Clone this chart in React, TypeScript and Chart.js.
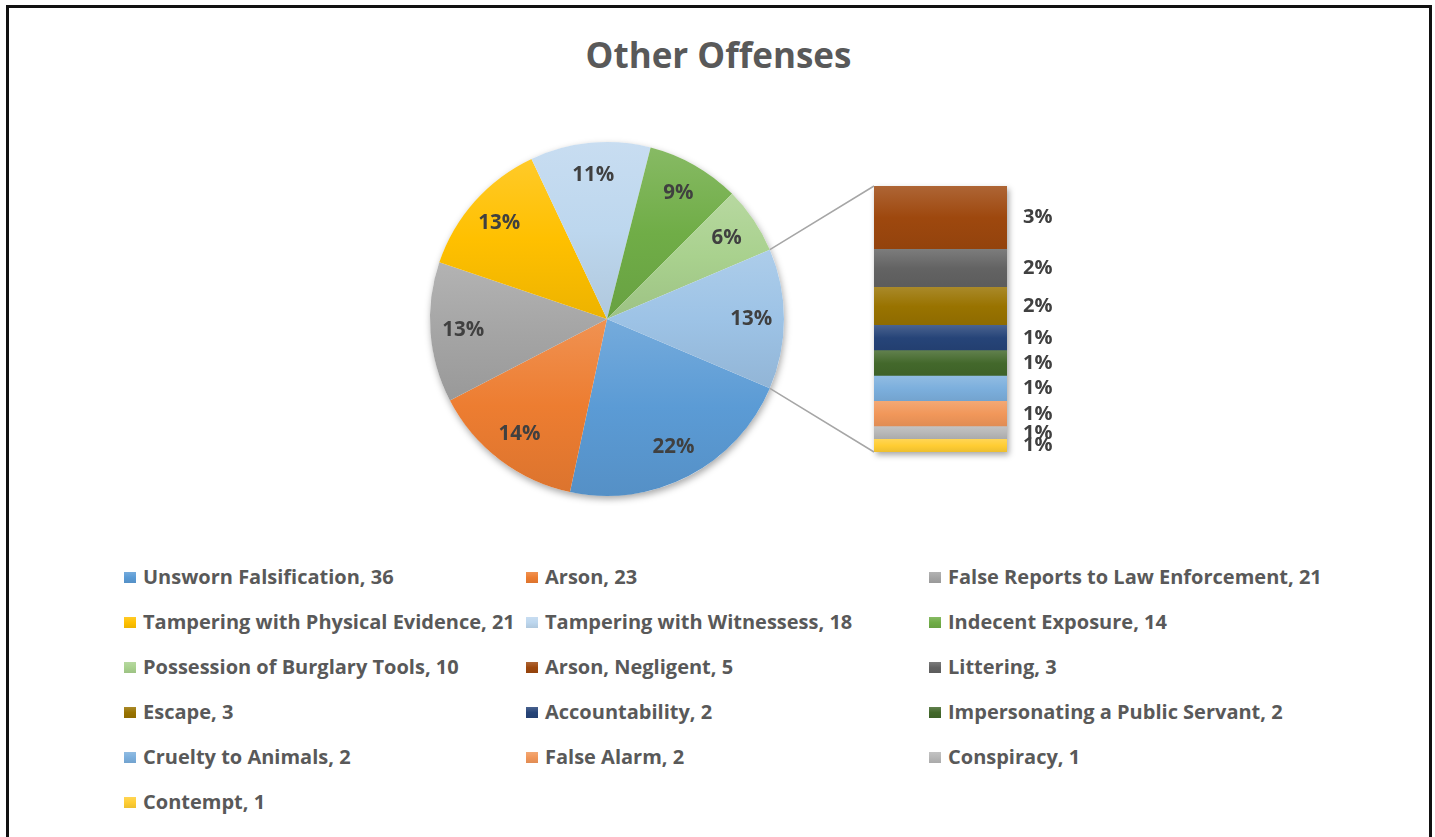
import React, { useEffect, useRef } from "react";
import { Chart, registerables } from "chart.js";
Chart.register(...registerables);

const TITLE = "Other Offenses";
const categories = [
  "Unsworn Falsification",
  "Arson",
  "False Reports to Law Enforcement",
  "Tampering with Physical Evidence",
  "Tampering with Witnessess",
  "Indecent Exposure",
  "Possession of Burglary Tools",
  "Arson, Negligent",
  "Littering",
  "Escape",
  "Accountability",
  "Impersonating a Public Servant",
  "Cruelty to Animals",
  "False Alarm",
  "Conspiracy",
  "Contempt",
];
const counts = [36, 23, 21, 21, 18, 14, 10, 5, 3, 3, 2, 2, 2, 2, 1, 1];
const MAIN_PIE_COUNT = 7;
const colors = [
  "#5B9BD5", "#ED7D31", "#A5A5A5", "#FFC000", "#BDD7EE", "#70AD47", "#A9D18E",
  "#9E480E", "#636363", "#997300", "#264478", "#43682B", "#7CAFDD", "#F1975A", "#B7B7B7", "#FFCD33",
];
const OTHER_COLOR = "#9DC3E6";

const FONT = "'Open Sans', Lato, sans-serif";
const LABEL_COLOR = "#404040";
const LEGEND_COLOR = "#595959";

const total = counts.reduce((a, b) => a + b, 0);
const otherCounts = counts.slice(MAIN_PIE_COUNT);
const otherTotal = otherCounts.reduce((a, b) => a + b, 0);
const pieValues = [...counts.slice(0, MAIN_PIE_COUNT), otherTotal];
const pieColors = [...colors.slice(0, MAIN_PIE_COUNT), OTHER_COLOR];
const pct = (v: number) => Math.round((v / total) * 100) + "%";
// rotation so the "other" slice is centred at 3 o'clock (pie-of-bar layout)
const ROTATION = 90 + ((otherTotal / total) * 360) / 2;

function hexToRgb(h: string) {
  const n = parseInt(h.slice(1), 16);
  return [(n >> 16) & 255, (n >> 8) & 255, n & 255];
}
function mix(h: string, t: number[], a: number) {
  const c = hexToRgb(h);
  const r = c.map((v, i) => Math.round(v + (t[i] - v) * a));
  return `rgb(${r[0]},${r[1]},${r[2]})`;
}
function grad(ctx: CanvasRenderingContext2D, y0: number, y1: number, base: string) {
  const g = ctx.createLinearGradient(0, y0, 0, y1);
  g.addColorStop(0, mix(base, [255, 255, 255], 0.16));
  g.addColorStop(0.5, base);
  g.addColorStop(1, mix(base, [0, 0, 0], 0.07));
  return g;
}

export default function App() {
  const pieRef = useRef<HTMLCanvasElement>(null);
  const barRef = useRef<HTMLCanvasElement>(null);

  useEffect(() => {
    const pieCanvas = pieRef.current!;
    const barCanvas = barRef.current!;

    const pieDecor = {
      id: "pieDecor",
      beforeDatasetsDraw(chart: any) {
        const arc = chart.getDatasetMeta(0).data[0];
        if (!arc) return;
        const { x, y, outerRadius } = arc.getProps(["x", "y", "outerRadius"], true);
        const c = chart.ctx;
        c.save();
        c.shadowColor = "rgba(0,0,0,0.35)";
        c.shadowBlur = 7;
        c.shadowOffsetX = 1;
        c.shadowOffsetY = 3;
        c.fillStyle = "#fff";
        c.beginPath();
        c.arc(x, y, outerRadius, 0, Math.PI * 2);
        c.fill();
        c.restore();
      },
      afterDatasetsDraw(chart: any) {
        const c = chart.ctx;
        c.save();
        c.font = `bold 20.5px ${FONT}`;
        c.fillStyle = LABEL_COLOR;
        c.textAlign = "center";
        c.textBaseline = "middle";
        chart.getDatasetMeta(0).data.forEach((el: any, i: number) => {
          const p = el.getProps(["x", "y", "startAngle", "endAngle", "outerRadius"], true);
          const mid = (p.startAngle + p.endAngle) / 2;
          const r = p.outerRadius * 0.815;
          c.fillText(pct(pieValues[i]), p.x + Math.cos(mid) * r, p.y + Math.sin(mid) * r);
        });
        c.restore();
      },
    };

    const pie = new Chart(pieCanvas, {
      type: "pie",
      data: {
        labels: [...categories.slice(0, MAIN_PIE_COUNT), "Other"],
        datasets: [
          {
            data: pieValues,
            borderWidth: 0,
            hoverOffset: 0,
            backgroundColor: (ctx: any) => {
              const chart = ctx.chart;
              const area = chart.chartArea;
              const base = pieColors[ctx.dataIndex];
              if (!area) return base;
              const cx = (area.left + area.right) / 2;
              const cy = (area.top + area.bottom) / 2;
              const r = Math.min(area.width, area.height) / 2;
              const sum = pieValues.reduce((a, b) => a + b, 0);
              const before = pieValues.slice(0, ctx.dataIndex).reduce((a, b) => a + b, 0);
              const start = ((ROTATION - 90) * Math.PI) / 180;
              const a0 = start + (before / sum) * Math.PI * 2;
              const a1 = a0 + (pieValues[ctx.dataIndex] / sum) * Math.PI * 2;
              const ys = [cy, cy + r * Math.sin(a0), cy + r * Math.sin(a1)];
              for (let k = -2; k <= 4; k++) {
                const down = Math.PI / 2 + k * Math.PI * 2;
                const up = -Math.PI / 2 + k * Math.PI * 2;
                if (down > a0 && down < a1) ys.push(cy + r);
                if (up > a0 && up < a1) ys.push(cy - r);
              }
              return grad(chart.ctx, Math.min(...ys), Math.max(...ys), base);
            },
          } as any,
        ],
      },
      options: {
        responsive: false,
        animation: false,
        events: [],
        rotation: ROTATION,
        layout: { padding: 10 },
        plugins: { legend: { display: false }, tooltip: { enabled: false }, title: { display: false } },
      },
      plugins: [pieDecor],
    });

    // bar datasets: bottom of stack first
    const order = otherCounts.map((_, i) => i).reverse();
    const barDatasets = order.map((i) => {
      const below = otherCounts.slice(i + 1).reduce((a, b) => a + b, 0);
      const base = colors[MAIN_PIE_COUNT + i];
      return {
        label: categories[MAIN_PIE_COUNT + i],
        data: [otherCounts[i]],
        borderWidth: 0,
        barPercentage: 1,
        categoryPercentage: 1,
        backgroundColor: (ctx: any) => {
          const chart = ctx.chart;
          const ys = chart.scales && chart.scales.y;
          if (!ys || !chart.chartArea) return base;
          const y0 = ys.getPixelForValue(below + otherCounts[i]);
          const y1 = ys.getPixelForValue(below);
          return grad(chart.ctx, y0, y1, base);
        },
      } as any;
    });

    const barDecor = {
      id: "barDecor",
      beforeDatasetsDraw(chart: any) {
        const n = chart.data.datasets.length;
        const bottom = chart.getDatasetMeta(0).data[0];
        const top = chart.getDatasetMeta(n - 1).data[0];
        if (!bottom || !top) return;
        const b = bottom.getProps(["x", "base", "width"], true);
        const t = top.getProps(["y"], true);
        const c = chart.ctx;
        c.save();
        c.shadowColor = "rgba(0,0,0,0.35)";
        c.shadowBlur = 6;
        c.shadowOffsetX = 2;
        c.shadowOffsetY = 3;
        c.fillStyle = "#fff";
        c.fillRect(b.x - b.width / 2, t.y, b.width, b.base - t.y);
        c.restore();
      },
      afterDatasetsDraw(chart: any) {
        const c = chart.ctx;
        c.save();
        c.font = `bold 20px ${FONT}`;
        c.fillStyle = LABEL_COLOR;
        c.textAlign = "left";
        c.textBaseline = "middle";
        chart.data.datasets.forEach((ds: any, di: number) => {
          const el = chart.getDatasetMeta(di).data[0];
          const p = el.getProps(["x", "y", "base", "width"], true);
          c.fillText(pct(ds.data[0]), p.x + p.width / 2 + 16, (p.y + p.base) / 2);
        });
        // connector lines from the pie's "other" slice to the bar
        const pr = pieCanvas.getBoundingClientRect();
        const br = barCanvas.getBoundingClientRect();
        const dx = pr.left - br.left;
        const dy = pr.top - br.top;
        const arc = pie.getDatasetMeta(0).data[MAIN_PIE_COUNT] as any;
        const a = arc.getProps(["x", "y", "startAngle", "endAngle", "outerRadius"], true);
        const n = chart.data.datasets.length;
        const bottom = chart.getDatasetMeta(0).data[0].getProps(["x", "base", "width"], true);
        const top = chart.getDatasetMeta(n - 1).data[0].getProps(["x", "y", "width"], true);
        c.strokeStyle = "#A6A6A6";
        c.lineWidth = 1.5;
        c.beginPath();
        c.moveTo(a.x + dx + Math.cos(a.startAngle) * a.outerRadius, a.y + dy + Math.sin(a.startAngle) * a.outerRadius);
        c.lineTo(top.x - top.width / 2, top.y);
        c.moveTo(a.x + dx + Math.cos(a.endAngle) * a.outerRadius, a.y + dy + Math.sin(a.endAngle) * a.outerRadius);
        c.lineTo(bottom.x - bottom.width / 2, bottom.base);
        c.stroke();
        c.restore();
      },
    };

    const bar = new Chart(barCanvas, {
      type: "bar",
      data: { labels: ["Other"], datasets: barDatasets },
      options: {
        responsive: false,
        animation: false,
        events: [],
        layout: { padding: { left: 174, right: 113, top: 36, bottom: 28 } },
        scales: {
          x: { display: false, stacked: true },
          y: { display: false, stacked: true, min: 0, max: otherTotal },
        },
        plugins: { legend: { display: false }, tooltip: { enabled: false }, title: { display: false } },
      },
      plugins: [barDecor],
    });

    return () => {
      bar.destroy();
      pie.destroy();
    };
  }, []);

  const colX = [124, 526, 929];
  const rowY0 = 577;
  const rowGap = 45;

  return (
    <div
      style={{
        position: "absolute",
        left: 0,
        top: 0,
        width: 1435,
        height: 837,
        overflow: "hidden",
        background: "#fff",
        fontFamily: FONT,
      }}
    >
      <div
        style={{
          position: "absolute",
          left: 6,
          top: 5,
          width: 1426,
          height: 900,
          border: "3px solid #111",
          boxSizing: "border-box",
        }}
      />
      <div
        style={{
          position: "absolute",
          left: 0,
          top: 36,
          width: 1437,
          textAlign: "center",
          fontWeight: 700,
          fontSize: 35,
          lineHeight: "37px",
          color: LEGEND_COLOR,
        }}
      >
        {TITLE}
      </div>
      <canvas ref={pieRef} width={374} height={374} style={{ position: "absolute", left: 420, top: 132 }} />
      <canvas ref={barRef} width={420} height={330} style={{ position: "absolute", left: 700, top: 150 }} />
      {categories.map((name, i) => {
        const col = i % 3;
        const row = Math.floor(i / 3);
        const base = colors[i];
        return (
          <div
            key={name}
            style={{
              position: "absolute",
              left: colX[col],
              top: rowY0 + row * rowGap - 12,
              height: 24,
              display: "flex",
              alignItems: "center",
              whiteSpace: "nowrap",
            }}
          >
            <span
              style={{
                display: "inline-block",
                width: 12,
                height: 11,
                marginRight: 7,
                background: `linear-gradient(${mix(base, [255, 255, 255], 0.16)}, ${base}, ${mix(base, [0, 0, 0], 0.07)})`,
              }}
            />
            <span style={{ fontWeight: 700, fontSize: 20, lineHeight: "24px", color: LEGEND_COLOR }}>
              {name}, {counts[i]}
            </span>
          </div>
        );
      })}
    </div>
  );
}
